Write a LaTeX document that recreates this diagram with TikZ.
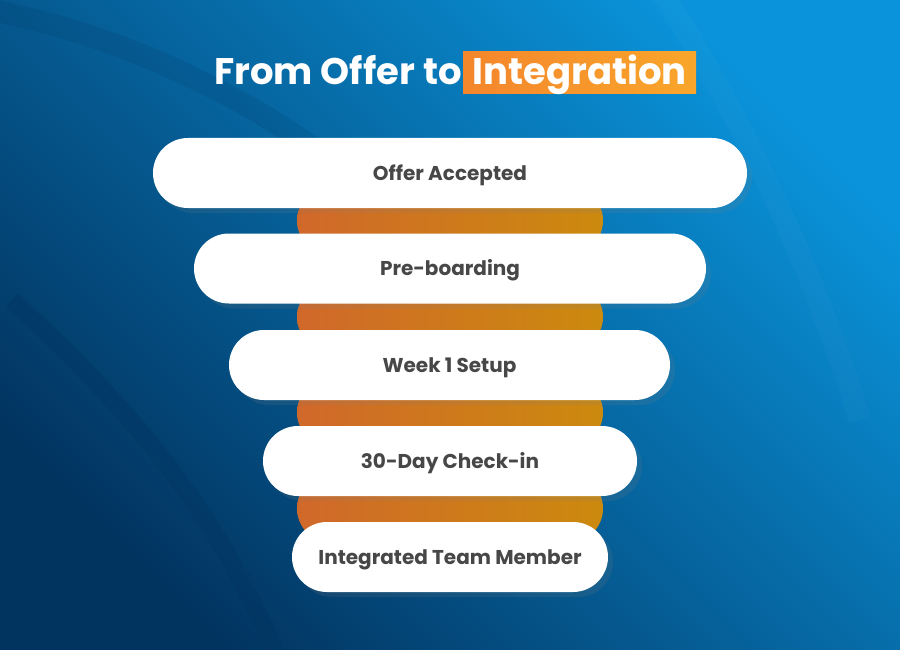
\documentclass[tikz,border=0pt]{standalone}
\usepackage{fontspec}
\setmainfont{Poppins}
\usetikzlibrary{shadows}
\usepackage{xcolor}
\definecolor{deepnavy}{HTML}{023460}
\definecolor{midblue}{HTML}{044F8A}
\definecolor{skyblue}{HTML}{0A93DA}
\definecolor{ember}{HTML}{D0682A}
\definecolor{amber}{HTML}{CC8A0E}
\definecolor{tagleft}{HTML}{F4862C}
\definecolor{tagright}{HTML}{F9A62B}
\definecolor{ink}{HTML}{474747}
\tikzset{
	stage/.style={fill=white, rounded corners=35pt, minimum height=70pt, inner sep=0pt, text=ink, font=\bfseries\fontsize{20}{24}\selectfont, text height=14pt, text depth=0pt, drop shadow={shadow xshift=5pt, shadow yshift=-5pt, opacity=0.16}},
	link/.style={left color=ember, right color=amber, rounded corners=34pt, minimum width=306pt, minimum height=68pt, inner sep=0pt},
	tag/.style={left color=tagleft, right color=tagright, text=white, font=\bfseries\fontsize{37}{42}\selectfont, minimum width=233pt, minimum height=42pt, inner sep=0pt, text height=30pt, text depth=6pt},
	heading/.style={text=white, font=\bfseries\fontsize{37}{42}\selectfont, inner sep=0pt},
}

\begin{document}
\begin{tikzpicture}[x=1pt, y=-1pt]
		\useasboundingbox (0,0) rectangle (900,650);
		\begin{scope}
			%sfondo
			\shade[bottom color=deepnavy, middle color=midblue, top color=skyblue, shading angle=-45] (0,0) rectangle (900,650);
			%archi
			\draw[line width=18pt, deepnavy, opacity=0.35] (12,300) .. controls (110,390) and (215,500) .. (278,660);
			\draw[line width=22pt, deepnavy, opacity=0.15] (-10,10) .. controls (100,30) and (230,85) .. (330,160);
			\draw[line width=22pt, white, opacity=0.025] (660,-10) .. controls (730,100) and (800,230) .. (860,420);
			%colonna arancione
			\node[link] (l1) at (450,220.5) {};
			\node[link] (l2) at (450,317) {};
			\node[link] (l3) at (450,412.5) {};
			\node[link] (l4) at (450,508.5) {};
			%tappe
			\node[stage, minimum width=594pt] (s1) at (450,173) {Offer Accepted};
			\node[stage, minimum width=512pt] (s2) at (450,268.5) {Pre-boarding};
			\node[stage, minimum width=441pt] (s3) at (449.5,365) {Week 1 Setup};
			\node[stage, minimum width=374pt] (s4) at (450,461) {30-Day Check-in};
			\node[stage, minimum width=316pt] (s5) at (450,557) {Integrated Team Member};
			%titolo
			\node[tag] (integ) at (579.5,73) {Integration};
			\node[heading, anchor=base east] (lead) at ([xshift=-1pt]integ.base west) {From Offer to};
		\end{scope}
	\end{tikzpicture}
\end{document}
